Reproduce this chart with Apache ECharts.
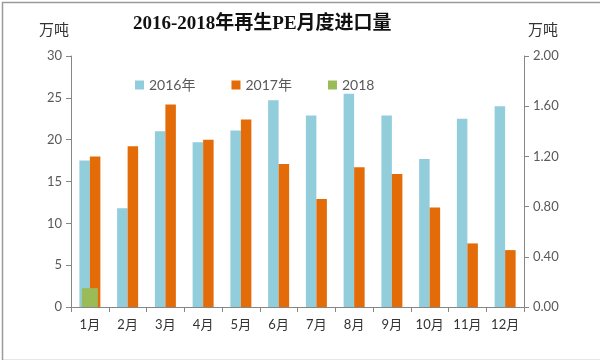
<!DOCTYPE html>
<html>
<head>
<meta charset="utf-8">
<script src="https://cdn.jsdelivr.net/npm/echarts@6/dist/echarts.min.js"></script>
<style>html,body{margin:0;padding:0;background:#fff}#c{width:600px;height:360px}</style>
</head>
<body>
<div id="c"></div>
<script>
const months = ['1月','2月','3月','4月','5月','6月','7月','8月','9月','10月','11月','12月'];
const s2016 = [17.5, 11.8, 21.0, 19.7, 21.1, 24.7, 22.9, 25.5, 22.9, 17.7, 22.5, 24.0];
const s2017 = [18.0, 19.2, 24.2, 20.0, 22.4, 17.1, 12.9, 16.7, 15.9, 11.9, 7.6, 6.8];
const s2018 = [0.15, null, null, null, null, null, null, null, null, null, null, null];
const leftTicks = {min: 0, max: 30, interval: 5};
const rightTicks = {min: 0, max: 2, interval: 0.4};

const chart = echarts.init(document.getElementById('c'));
const axisColor = '#868686';
const labelColor = '#595959';
const font = 'Lato, "Noto Sans CJK SC", sans-serif';
chart.setOption({
  animation: false,
  backgroundColor: '#fff',
  title: {
    text: '2016-2018年再生PE月度进口量',
    left: 128, top: 10,
    textStyle: {fontFamily: '"Liberation Serif", "Noto Sans CJK SC", serif', fontWeight: 'bold', fontSize: 19, color: '#111'}
  },
  legend: {
    left: 130, top: 73, icon: 'rect', itemWidth: 9, itemHeight: 9, itemGap: 36,
    textStyle: {color: labelColor, fontSize: 14, fontFamily: font},
    data: ['2016年','2017年','2018']
  },
  grid: {left: 71, right: 76, top: 56, bottom: 53},
  xAxis: [{
    type: 'category', data: months,
    axisLine: {lineStyle: {color: axisColor}},
    axisTick: {show: true, lineStyle: {color: axisColor}, length: 5},
    axisLabel: {color: '#333', fontSize: 13, margin: 11, fontFamily: font}
  }, {
    type: 'category', data: months, show: false
  }],
  yAxis: [{
    type: 'value', min: leftTicks.min, max: leftTicks.max, interval: leftTicks.interval,
    name: '万吨', nameLocation: 'end', nameGap: 18,
    nameTextStyle: {color: '#333', fontSize: 15, fontFamily: font, align: 'right', padding: [0, 2, 0, 0]},
    axisLine: {show: true, lineStyle: {color: axisColor}},
    axisTick: {show: true, lineStyle: {color: axisColor}, length: 5},
    axisLabel: {color: labelColor, fontSize: 13, margin: 9, fontFamily: font},
    splitLine: {show: false}
  }, {
    type: 'value', min: rightTicks.min, max: rightTicks.max, interval: rightTicks.interval,
    name: '万吨', nameLocation: 'end', nameGap: 18,
    nameTextStyle: {color: '#333', fontSize: 15, fontFamily: font, align: 'left', padding: [0, 0, 0, 4]},
    axisLine: {show: true, lineStyle: {color: axisColor}},
    axisTick: {show: true, lineStyle: {color: axisColor}, length: 5},
    axisLabel: {color: labelColor, fontSize: 13, margin: 9, fontFamily: font, formatter: v => v.toFixed(2)},
    splitLine: {show: false}
  }],
  series: [
    {name: '2016年', type: 'bar', data: s2016, barWidth: 10.5, barGap: '0%', itemStyle: {color: '#92CDDC'}},
    {name: '2017年', type: 'bar', data: s2017, barWidth: 10.5, barGap: '0%', itemStyle: {color: '#E36C09'}},
    {name: '2018', type: 'bar', data: s2018, xAxisIndex: 1, yAxisIndex: 1, barWidth: 16, z: 5, itemStyle: {color: '#9BBB59'}}
  ],
  graphic: [{
    type: 'rect', left: 0, top: 0, z: 100, silent: true,
    shape: {x: 0.5, y: 0.5, width: 599, height: 358},
    style: {fill: 'none', stroke: '#9a9a9a', lineWidth: 1.5}
  }]
});
</script>
</body>
</html>
